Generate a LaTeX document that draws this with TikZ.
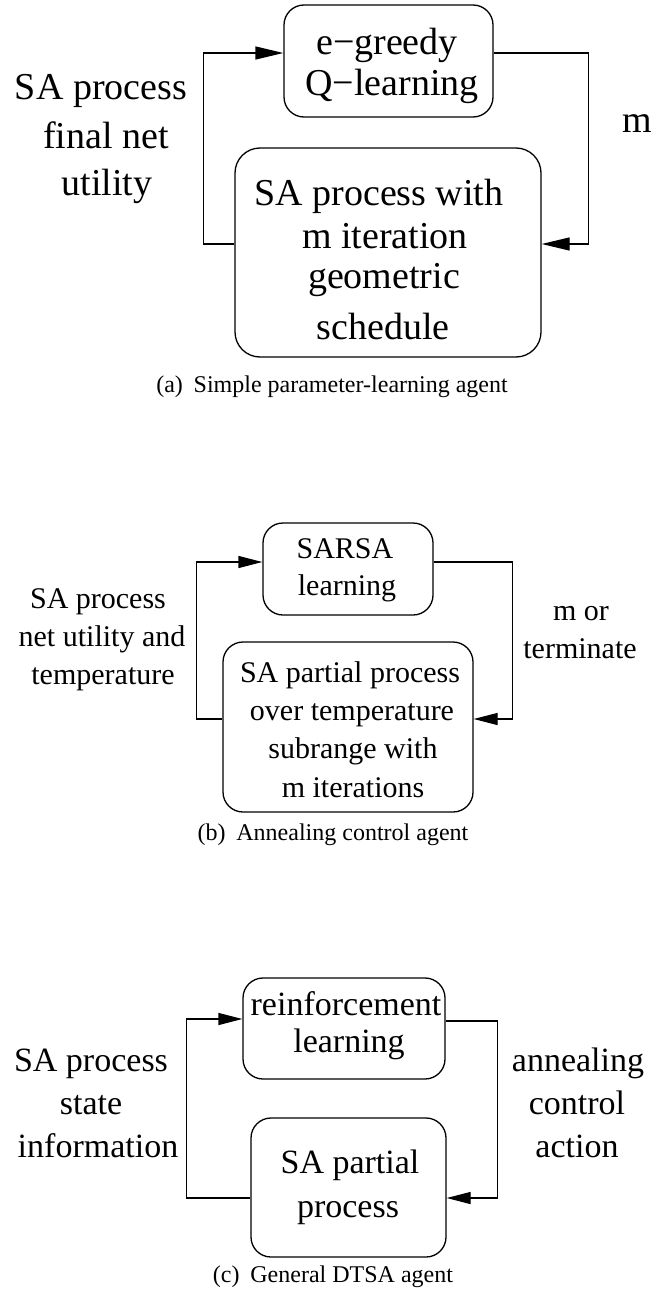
\documentclass[tikz,border=0pt]{standalone}
\usepackage{fontspec}
\setmainfont{Liberation Serif}
\usetikzlibrary{arrows.meta}
\begin{document}
\begin{tikzpicture}[x=1pt,y=-1pt,
  box/.style={draw, line width=1.3pt, rounded corners=#1, inner sep=0pt},
  box/.default=20pt,
  txt/.style={anchor=base, inner sep=0pt, outer sep=0pt},
  fa/.style={font=\fontsize{38}{40}\selectfont},
  fb/.style={font=\fontsize{30}{32}\selectfont},
  fc/.style={font=\fontsize{34}{36}\selectfont},
  fcap/.style={font=\fontsize{24}{26}\selectfont},
  link/.style={line width=1.3pt},
  arrA/.style={link, -{Triangle[length=28pt,width=13pt]}},
  arrB/.style={link, -{Triangle[length=24pt,width=12pt]}},
]
\useasboundingbox (0,0) rectangle (664,1295);

% ---------- (a) ----------
\node[box, minimum width=209pt, minimum height=112pt] (topA) at (388.5,61) {};
\node[box=25pt, minimum width=306pt, minimum height=209pt] (botA) at (388,252.5) {};
\node[txt,fa] (tA1) at (387,55) {e−greedy};
\node[txt,fa] (tA2) at (392,96) {Q−learning};
\node[txt,fa] (tA3) at (379,205) {SA process with};
\node[txt,fa] (tA4) at (385,248) {m iteration};
\node[txt,fa] (tA5) at (384,288) {geometric};
\node[txt,fa] (tA6) at (383,339) {schedule};
\node[txt,fa] (lA1) at (101,100) {SA process};
\node[txt,fa] (lA2) at (106,148) {final net};
\node[txt,fa] (lA3) at (107,195) {utility};
\node[txt,fa] (rA1) at (637,132) {m};
\node[txt,fcap] (capA) at (332,392) {(a)\hspace{0.45em}Simple parameter-learning agent};
\draw[arrA] ([yshift=8.5pt]botA.west) -- ++(-31,0) |- ([yshift=8pt]topA.west);
\draw[arrA] ([yshift=8pt]topA.east) -- ++(95,0) |- ([yshift=8.5pt]botA.east);

% ---------- (b) ----------
\node[box, minimum width=170pt, minimum height=92pt] (topB) at (348,569) {};
\node[box, minimum width=250pt, minimum height=170pt] (botB) at (348,727) {};
\node[txt,fb] (tB1) at (345,558) {SARSA};
\node[txt,fb] (tB2) at (347,595) {learning};
\node[txt,fb] (tB3) at (350,682) {SA partial process};
\node[txt,fb] (tB4) at (352,720) {over temperature};
\node[txt,fb] (tB5) at (353,758) {subrange with};
\node[txt,fb] (tB6) at (353,797) {m iterations};
\node[txt,fb] (lB1) at (98,608) {SA process};
\node[txt,fb] (lB2) at (102,646) {net utility and};
\node[txt,fb] (lB3) at (103,684) {temperature};
\node[txt,fb] (rB1) at (581,620) {m or};
\node[txt,fb] (rB2) at (580,658) {terminate};
\node[txt,fcap] (capB) at (333,840) {(b)\hspace{0.45em}Annealing control agent};
\draw[arrB] ([yshift=8pt]botB.west) -- ++(-26,0) |- ([yshift=7pt]topB.west);
\draw[arrB] ([yshift=7pt]topB.east) -- ++(79,0) |- ([yshift=8pt]botB.east);

% ---------- (c) ----------
\node[box, minimum width=202pt, minimum height=101pt] (topC) at (344,1028.5) {};
\node[box, minimum width=195pt, minimum height=139pt] (botC) at (348.5,1187.5) {};
\node[txt,fc] (tC1) at (346,1015) {reinforcement};
\node[txt,fc] (tC2) at (349,1052) {learning};
\node[txt,fc] (tC3) at (350,1173) {SA partial};
\node[txt,fc] (tC4) at (348,1217) {process};
\node[txt,fc] (lC1) at (91,1071) {SA process};
\node[txt,fc] (lC2) at (91,1114) {state};
\node[txt,fc] (lC3) at (98,1157) {information};
\node[txt,fc] (rC1) at (578,1071) {annealing};
\node[txt,fc] (rC2) at (577,1114) {control};
\node[txt,fc] (rC3) at (577,1157) {action};
\node[txt,fcap] (capC) at (333,1282) {(c)\hspace{0.45em}General DTSA agent};
\draw[arrB] ([yshift=-10.5pt]botC.west) -- ++(-64,0) |- ([yshift=9.5pt]topC.west);
\draw[arrB] ([yshift=7.5pt]topC.east) -- ++(52,0) |- ([yshift=-10.5pt]botC.east);
\end{tikzpicture}
\end{document}
